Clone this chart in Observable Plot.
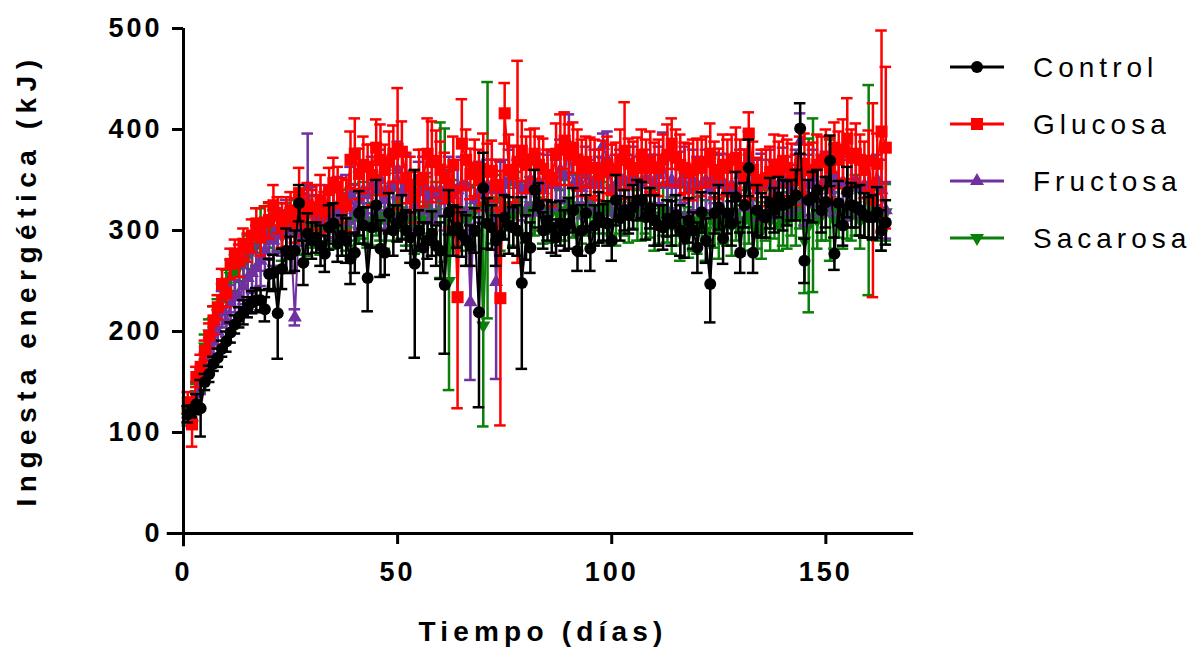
<!DOCTYPE html>
<html><head><meta charset="utf-8">
<script src="https://cdn.jsdelivr.net/npm/d3@7"></script>
<script src="https://cdn.jsdelivr.net/npm/@observablehq/plot@0.6"></script>
<style>
body{margin:0;background:#fff;}
#wrap{position:relative;width:1197px;height:648px;overflow:hidden;font-family:"Liberation Sans",Arial,sans-serif;}
#plot svg text{letter-spacing:3px;}
#ytitle{position:absolute;left:27px;top:280px;transform:translate(-50%,-50%) rotate(-90deg);white-space:nowrap;font-weight:bold;font-size:28px;letter-spacing:6.5px;}
#xtitle{position:absolute;left:543px;top:632px;transform:translate(-50%,-50%);white-space:nowrap;font-weight:bold;font-size:28px;letter-spacing:5.2px;}
#legend{position:absolute;left:0;top:0;}
</style></head><body>
<div id="wrap"><div id="plot"></div><div id="ytitle">Ingesta energética (kJ)</div><div id="xtitle">Tiempo (días)</div></div>
<script>
const seriesNames = ["Control","Glucosa","Fructosa","Sacarosa"];
const seriesColors = ["#000000","#FF0000","#7030A0","#0A7F0A"];
const xTicks = [0,50,100,150];
const yTicks = [0,100,200,300,400,500];
const days = d3.range(1,165);

const controlMean = [
118,121,128,124,150,158,168,174,183,190,
199,207,214,219,224,229,231,231,222,257,
258,218,262,280,276,280,327,268,297,290,
293,285,277,303,307,287,295,290,272,278,
317,305,253,303,325,282,278,317,300,307,
313,300,293,267,300,283,290,297,285,280,
246,318,300,303,296,290,285,300,219,342,
307,303,290,295,313,305,303,300,248,293,
283,340,325,300,310,303,293,307,300,307,
320,280,300,317,282,305,313,308,307,290,
330,312,320,315,323,330,330,313,322,310,
305,303,312,307,315,300,293,310,300,283,
318,290,247,317,323,292,317,307,333,278,
325,362,278,320,315,313,327,320,333,325,
327,330,335,401,270,330,333,340,320,328,
369,277,327,305,338,325,323,320,315,313,
313,318,300,308];
const controlErr = [
8,6,10,28,8,8,7,9,8,10,
10,9,10,12,10,11,12,10,12,15,
18,45,20,22,18,20,18,22,20,18,
15,20,18,22,20,18,20,22,25,20,
22,18,33,20,25,28,22,20,25,18,
22,20,25,93,20,25,18,22,20,28,
68,22,25,20,22,25,20,22,94,35,
25,22,25,20,22,28,20,25,85,22,
25,20,22,18,20,25,18,22,20,25,
22,20,25,18,22,20,25,18,22,20,
25,22,20,18,22,20,18,22,20,25,
20,22,18,22,20,25,20,22,18,25,
20,22,38,20,22,25,20,22,25,20,
22,28,20,25,22,20,25,22,20,25,
22,20,25,25,22,20,25,20,22,25,
25,16,22,20,25,22,20,25,22,20,
22,25,20,22];

const glucosaMean = [
130,108,155,165,181,196,211,224,247,238,
267,277,270,287,283,295,307,293,308,310,
325,315,305,313,320,310,337,315,325,320,
323,330,318,340,347,343,330,325,370,376,
356,365,363,355,382,370,360,368,376,381,
378,352,345,333,350,352,376,368,369,360,
352,333,365,234,386,370,356,362,350,361,
358,359,345,233,416,360,356,368,379,365,
370,376,365,361,355,352,376,380,389,375,
382,370,362,368,362,362,355,359,365,360,
359,370,379,366,360,362,375,362,368,362,
362,370,375,386,372,365,362,358,360,366,
362,368,376,360,356,365,362,370,372,362,
355,396,360,347,350,352,358,365,360,369,
362,356,350,365,366,360,359,365,368,372,
362,382,370,380,391,372,376,370,360,369,
330,366,398,382];
const glucosaErr = [
10,22,10,12,10,12,14,12,15,14,
15,14,16,15,14,16,15,18,16,18,
20,18,22,20,18,22,25,20,22,20,
22,25,20,22,25,20,22,25,28,35,
25,28,22,30,28,35,25,30,28,60,
30,25,28,25,30,28,35,40,30,28,
25,30,28,110,44,30,25,28,30,35,
28,30,25,126,30,35,28,100,30,28,
30,25,28,30,25,28,30,35,28,30,
25,30,28,25,30,28,25,30,28,25,
28,30,48,25,28,30,25,28,30,25,
28,25,30,25,28,30,25,28,30,25,
28,25,30,28,25,30,28,25,30,28,
25,21,28,25,30,28,25,30,28,25,
28,30,25,28,30,25,28,30,25,28,
30,25,28,30,40,28,30,25,28,30,
96,30,100,80];

const fructosaMean = [
118,115,138,150,165,178,190,200,222,210,
228,235,234,245,253,258,263,270,280,293,
290,300,295,305,300,214,310,315,343,318,
312,320,310,315,318,325,315,330,335,320,
330,340,335,345,340,350,330,342,345,360,
338,345,330,325,338,345,332,340,335,340,
330,345,335,340,345,345,229,330,338,335,
345,340,249,340,345,350,355,345,340,342,
350,345,348,340,345,350,345,360,355,385,
345,350,342,355,345,350,345,384,370,340,
345,352,350,345,355,348,345,352,350,345,
355,372,345,350,345,348,355,340,350,345,
345,350,340,352,345,348,340,345,340,355,
350,370,345,340,348,345,350,340,345,352,
345,340,350,388,330,345,352,340,345,350,
340,355,345,348,340,345,350,342,345,340,
345,350,340,320];
const fructosaErr = [
8,10,12,12,14,15,14,16,18,15,
18,16,20,18,22,20,22,25,20,22,
25,22,20,25,22,8,25,22,53,25,
22,25,28,22,25,28,22,25,28,25,
28,25,30,28,25,30,28,25,30,28,
25,30,28,25,30,28,25,30,28,25,
30,28,25,30,28,25,77,28,30,28,
25,30,96,28,25,30,28,25,30,28,
25,30,28,25,30,28,25,30,28,30,
28,25,30,28,25,30,28,12,28,25,
30,28,25,30,28,25,30,28,25,30,
28,25,30,28,25,30,28,25,30,28,
25,30,28,25,30,28,25,30,28,25,
30,28,25,30,28,25,30,28,25,30,
28,25,30,28,25,30,28,25,30,28,
25,30,28,25,30,28,25,30,28,25,
28,25,30,28];

const sacarosaMean = [
115,118,138,152,185,198,210,218,232,245,
255,258,265,268,275,280,285,300,292,305,
298,300,295,305,300,305,298,310,300,305,
310,298,305,315,310,305,315,300,310,318,
312,320,305,310,325,315,310,320,315,330,
320,310,315,305,320,310,325,315,318,330,
335,250,322,315,320,310,315,320,325,206,
330,315,330,310,320,325,315,330,320,318,
325,320,330,315,322,318,325,315,320,330,
318,325,315,320,328,315,322,318,325,320,
315,325,320,318,330,315,320,325,318,310,
315,320,318,305,310,300,315,298,310,305,
312,300,315,308,302,315,310,305,318,300,
310,315,305,312,300,315,310,320,305,315,
310,320,315,330,290,305,325,310,315,320,
330,310,318,312,320,315,325,310,318,340,
320,315,310,318];
const sacarosaErr = [
8,10,10,12,12,14,15,14,15,16,
16,18,16,18,20,18,20,22,20,22,
22,20,25,22,20,25,22,20,25,22,
25,22,20,25,28,22,25,20,25,28,
25,28,22,25,30,25,28,22,25,30,
28,25,30,28,25,30,28,25,30,77,
66,108,28,30,25,30,28,25,30,100,
117,28,25,30,28,25,30,28,25,30,
28,25,30,28,25,30,28,25,30,28,
25,30,28,25,30,28,25,30,28,25,
30,28,25,30,28,25,30,28,25,30,
28,25,30,28,25,30,28,25,30,28,
25,30,28,25,30,28,25,30,28,25,
30,28,25,30,28,25,30,28,25,30,
28,25,30,28,52,86,86,28,25,30,
60,28,25,30,28,25,30,28,25,104,
28,25,30,28];

const triangleDown = {
  draw(ctx, size) {
    const y = Math.sqrt(size / (Math.sqrt(3) * 3));
    ctx.moveTo(0, 2 * y);
    ctx.lineTo(-Math.sqrt(3) * y, -y);
    ctx.lineTo(Math.sqrt(3) * y, -y);
    ctx.closePath();
  }
};
const symbols = ["circle","square","triangle",triangleDown];
const radii = [6,6.8,5.2,5.2];
const means = [controlMean, glucosaMean, fructosaMean, sacarosaMean];
const errs = [controlErr, glucosaErr, fructosaErr, sacarosaErr];

const series = seriesNames.map((name,k)=>({
  name, color: seriesColors[k], symbol: symbols[k], r: radii[k],
  data: days.map((d,i)=>({day:d, v:means[k][i], e:errs[k][i]}))
}));

const capHalf = 1.35;
function seriesMarks(s){
  return [
    Plot.ruleX(s.data, {x:"day", y1:d=>d.v-d.e, y2:d=>d.v+d.e, stroke:s.color, strokeWidth:2.5}),
    Plot.ruleY(s.data, {y:d=>d.v+d.e, x1:d=>d.day-capHalf, x2:d=>d.day+capHalf, stroke:s.color, strokeWidth:2.5}),
    Plot.ruleY(s.data, {y:d=>d.v-d.e, x1:d=>d.day-capHalf, x2:d=>d.day+capHalf, stroke:s.color, strokeWidth:2.5}),
    Plot.line(s.data, {x:"day", y:"v", stroke:s.color, strokeWidth:2}),
    Plot.dot(s.data, {x:"day", y:"v", symbol:s.symbol, r:s.r, fill:s.color, stroke:"none"})
  ];
}
const drawOrder = [3,2,1,0];

const chart = Plot.plot({
  width:1197, height:648,
  marginLeft:183, marginRight:286, marginTop:28, marginBottom:115,
  x:{domain:[0,170]},
  y:{domain:[0,500]},
  style:{fontFamily:"Liberation Sans, Arial, sans-serif", background:"white", overflow:"visible"},
  marks:[
    ...drawOrder.flatMap(k=>seriesMarks(series[k])),
    Plot.ruleY([0], {x1:-3.8, x2:170.5, stroke:"black", strokeWidth:3}),
    Plot.ruleX([0], {y1:-13, y2:500, stroke:"black", strokeWidth:3}),
    Plot.axisX({ticks:xTicks, tickSize:11, strokeWidth:3, tickPadding:17, fontSize:27, fontWeight:"bold", label:null, tickFormat:d=>String(d)}),
    Plot.axisY({ticks:yTicks, tickSize:11, strokeWidth:3, tickPadding:10, fontSize:27, fontWeight:"bold", label:null, tickFormat:d=>String(d)})
  ]
});
document.getElementById("plot").appendChild(chart);

// legend
const ns = "http://www.w3.org/2000/svg";
const leg = document.createElementNS(ns,"svg");
leg.setAttribute("id","legend");
leg.setAttribute("width","1197"); leg.setAttribute("height","648");
leg.style.pointerEvents="none";
const legY = [67,124,181,238];
series.forEach((s,k)=>{
  const y = legY[k];
  const line = document.createElementNS(ns,"line");
  line.setAttribute("x1",950); line.setAttribute("x2",1004);
  line.setAttribute("y1",y); line.setAttribute("y2",y);
  line.setAttribute("stroke",s.color); line.setAttribute("stroke-width",3);
  leg.appendChild(line);
  const p = document.createElementNS(ns,"path");
  const symType = typeof s.symbol === "string" ? {circle:d3.symbolCircle,square:d3.symbolSquare,triangle:d3.symbolTriangle}[s.symbol] : s.symbol;
  p.setAttribute("d", d3.symbol(symType, s.r*s.r*Math.PI)());
  p.setAttribute("transform",`translate(977,${y})`);
  p.setAttribute("fill",s.color);
  leg.appendChild(p);
  const t = document.createElementNS(ns,"text");
  t.setAttribute("x",1033); t.setAttribute("y",y+10);
  t.setAttribute("font-size",28);
  t.setAttribute("font-family","Liberation Sans, Arial, sans-serif");
  t.setAttribute("letter-spacing","5px");
  t.textContent = s.name;
  leg.appendChild(t);
});
document.getElementById("wrap").appendChild(leg);
</script>
</body></html>
